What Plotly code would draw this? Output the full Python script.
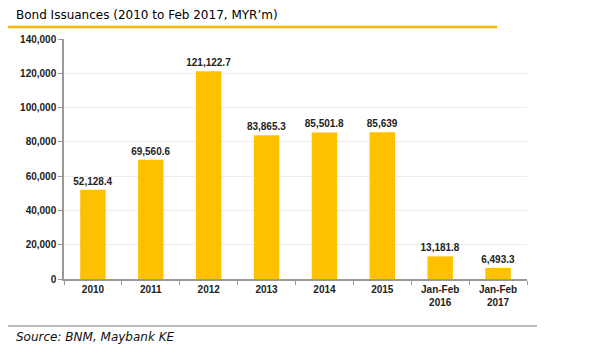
import plotly.graph_objects as go

categories = ["2010", "2011", "2012", "2013", "2014", "2015", "Jan-Feb<br>2016", "Jan-Feb<br>2017"]
values = [52128.4, 69560.6, 121122.7, 83865.3, 85501.8, 85639, 13181.8, 6493.3]
labels = ["52,128.4", "69,560.6", "121,122.7", "83,865.3", "85,501.8", "85,639", "13,181.8", "6,493.3"]
y_ticks = [0, 20000, 40000, 60000, 80000, 100000, 120000, 140000]
y_tick_labels = ["0", "20,000", "40,000", "60,000", "80,000", "100,000", "120,000", "140,000"]

OFF = 8  # page body margin
FW, FH = 592, 352
L, R, T, B = 62 - OFF, 527 - OFF, 39 - OFF, 279 - OFF
W, H = R - L, B - T

def px(x):
    return (x - OFF - L) / W

def py(y):
    return (B - (y - OFF)) / H

font_fam = "Liberation Sans, Arial"

fig = go.Figure()
fig.add_trace(go.Bar(
    x=categories, y=values, text=labels, textposition="outside",
    constraintext="none",
    textfont=dict(family=font_fam, size=10, color="#222222", weight="bold"),
    marker=dict(color="#FFC000", line=dict(width=0)),
    width=0.44, cliponaxis=False,
))

fig.update_layout(
    width=FW, height=FH,
    margin=dict(l=L, r=FW - R, t=T, b=FH - B),
    paper_bgcolor="white", plot_bgcolor="white",
    showlegend=False,
    xaxis=dict(
        tickson="boundaries", ticks="outside", ticklen=4, tickcolor="#999999",
        showline=True, linecolor="#999999", linewidth=1.5,
        tickfont=dict(family=font_fam, size=10, color="#222222", weight="bold"),
        showgrid=False,
    ),
    yaxis=dict(
        range=[0, 140000], tickvals=y_ticks, ticktext=y_tick_labels,
        ticks="outside", ticklen=4, tickcolor="#999999",
        showline=True, linecolor="#999999", linewidth=1.5,
        gridcolor="#ececec", gridwidth=1,
        tickfont=dict(family=font_fam, size=10, color="#222222", weight="bold"),
        zeroline=False,
    ),
    shapes=[
        dict(type="line", xref="paper", yref="paper", x0=px(4), x1=px(497), y0=py(27), y1=py(27),
             line=dict(color="#F5B800", width=2.5)),
        dict(type="line", xref="paper", yref="paper", x0=px(3), x1=px(537), y0=py(326), y1=py(326),
             line=dict(color="#BBBBBB", width=2)),
    ],
    annotations=[
        dict(text="Bond Issuances (2010 to Feb 2017, MYR’m)", xref="paper", yref="paper",
             x=px(12), y=py(15), xanchor="left", yanchor="middle", showarrow=False,
             font=dict(family="DejaVu Sans", size=12, color="#000000")),
        dict(text="<i>Source: BNM, Maybank KE</i>", xref="paper", yref="paper",
             x=px(12), y=py(337), xanchor="left", yanchor="middle", showarrow=False,
             font=dict(family="DejaVu Sans", size=12, color="#111111")),
    ],
)

fig.write_html("out.html")
